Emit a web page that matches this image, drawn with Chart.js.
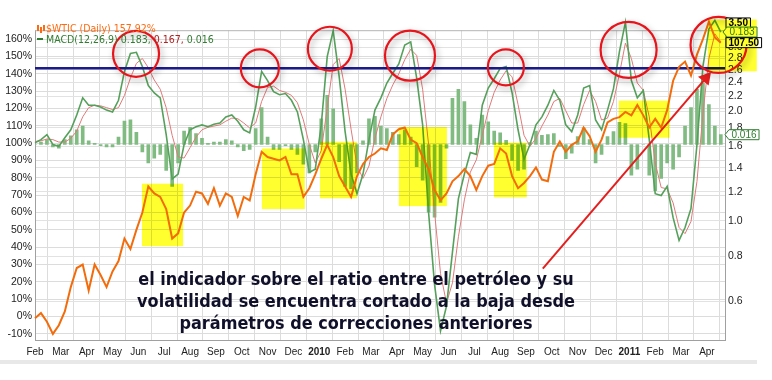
<!DOCTYPE html>
<html>
<head>
<meta charset="utf-8">
<script src="https://cdn.jsdelivr.net/npm/chart.js@4.4.1/dist/chart.umd.min.js"></script>
<style>
  html, body { margin: 0; padding: 0; background: #fff; }
  #wrap { width: 772px; height: 380px; position: relative; }
</style>
</head>
<body>
<div id="wrap"><canvas id="chart" width="772" height="380"></canvas></div>
<script>
// eje x: meses desde feb 2009 (0) hasta abr 2011 (26), datos semanales
const monthLabels = ['Feb','Mar','Apr','May','Jun','Jul','Aug','Sep','Oct','Nov','Dec','2010',
  'Feb','Mar','Apr','May','Jun','Jul','Aug','Sep','Oct','Nov','Dec','2011','Feb','Mar','Apr']
const weekStep = 12 / 52

// $WTIC ratio, % de rendimiento (eje izquierdo)
const ratioPct = [
  -1, 2, -3, -10, -5, 3, 17, 28, 30, 15,
  30, 24, 17, 26, 32, 45, 39, 50, 60, 75,
  71, 69, 62, 45, 48, 60, 64, 72, 71, 65,
  74, 64, 71, 69, 58, 69, 67, 82, 95, 92,
  91, 90, 92, 82, 82, 69, 74, 82, 91, 99,
  92, 81, 75, 69, 81, 88, 92, 94, 97, 96,
  105, 108, 109, 102, 100, 92, 85, 73, 67, 71,
  78, 81, 85, 81, 73, 81, 87, 88, 97, 94,
  81, 74, 77, 81, 86, 79, 78, 95, 101, 95,
  99, 101, 109, 104, 95, 102, 112, 114, 115, 118,
  116, 122, 116, 109, 114, 109, 119, 136, 144, 147,
  139, 151, 160, 170, 161, 157.92
]

// MACD(12,26,9)
const macdLine = [
  0.003, 0.008, 0.016, 0.000, -0.003, 0.011, 0.024, 0.048, 0.076, 0.064,
  0.064, 0.061, 0.056, 0.053, 0.072, 0.119, 0.148, 0.150, 0.127, 0.096,
  0.084, 0.076, 0.016, -0.056, -0.048, 0.000, 0.024, 0.029, 0.032, 0.029,
  0.033, 0.035, 0.045, 0.048, 0.038, 0.024, 0.019, 0.061, 0.119, 0.104,
  0.086, 0.081, 0.083, 0.072, 0.053, 0.008, -0.045, -0.040, 0.032, 0.143,
  0.185, 0.111, 0.021, -0.048, -0.080, -0.048, 0.008, 0.056, 0.076, 0.100,
  0.116, 0.131, 0.162, 0.167, 0.108, 0.032, -0.111, -0.228, -0.303, -0.263,
  -0.175, -0.088, -0.048, -0.013, -0.016, 0.064, 0.092, 0.107, 0.124, 0.127,
  0.084, 0.024, -0.024, 0.000, 0.032, 0.045, 0.064, 0.088, 0.072, 0.032,
  0.021, 0.048, 0.092, 0.096, 0.040, 0.024, 0.056, 0.091, 0.151, 0.199,
  0.104, 0.076, 0.088, 0.008, -0.080, -0.083, -0.068, -0.119, -0.156, -0.135,
  -0.104, 0.000, 0.127, 0.188, 0.202, 0.183
]
const signalLine = [
  0.005, 0.006, 0.009, 0.008, 0.004, 0.004, 0.010, 0.022, 0.045, 0.060,
  0.064, 0.063, 0.060, 0.057, 0.060, 0.080, 0.108, 0.132, 0.140, 0.125,
  0.105, 0.090, 0.060, 0.015, -0.020, -0.022, -0.005, 0.012, 0.024, 0.028,
  0.030, 0.032, 0.038, 0.043, 0.042, 0.035, 0.027, 0.035, 0.070, 0.093,
  0.095, 0.088, 0.085, 0.080, 0.068, 0.040, 0.000, -0.030, -0.010, 0.060,
  0.130, 0.140, 0.090, 0.025, -0.035, -0.055, -0.035, 0.010, 0.045, 0.075,
  0.097, 0.115, 0.138, 0.155, 0.145, 0.090, 0.000, -0.110, -0.210, -0.258,
  -0.225, -0.150, -0.090, -0.045, -0.025, 0.015, 0.055, 0.085, 0.105, 0.120,
  0.110, 0.065, 0.015, -0.003, 0.010, 0.030, 0.048, 0.070, 0.075, 0.055,
  0.035, 0.035, 0.065, 0.088, 0.070, 0.040, 0.043, 0.070, 0.115, 0.165,
  0.140, 0.100, 0.088, 0.045, -0.030, -0.070, -0.072, -0.095, -0.135, -0.145,
  -0.125, -0.060, 0.050, 0.140, 0.180, 0.167
]
const macdHist = [
  0.000, 0.004, 0.008, -0.004, -0.006, 0.008, 0.014, 0.024, 0.030, 0.006,
  0.002, -0.002, -0.004, -0.004, 0.012, 0.038, 0.040, 0.020, -0.012, -0.030,
  -0.022, -0.016, -0.042, -0.068, -0.030, 0.022, 0.028, 0.018, 0.010, 0.002,
  0.004, 0.004, 0.008, 0.006, -0.004, -0.010, -0.008, 0.026, 0.060, 0.012,
  -0.008, -0.008, -0.002, -0.008, -0.016, -0.032, -0.046, -0.012, 0.042, 0.080,
  0.058, -0.028, -0.068, -0.072, -0.046, 0.006, 0.042, 0.046, 0.030, 0.026,
  0.020, 0.016, 0.024, 0.012, -0.036, -0.058, -0.110, -0.118, -0.094, -0.006,
  0.075, 0.090, 0.070, 0.032, 0.010, 0.048, 0.037, 0.022, 0.019, 0.007,
  -0.026, -0.042, -0.040, 0.003, 0.022, 0.015, 0.016, 0.018, -0.003, -0.023,
  -0.014, 0.013, 0.027, 0.008, -0.030, -0.016, 0.013, 0.021, 0.036, 0.034,
  -0.050, -0.040, 0.000, -0.050, -0.075, -0.055, -0.030, -0.040, -0.020, 0.030,
  0.060, 0.090, 0.100, 0.065, 0.030, 0.016
]

const leftTicks = [-10, 0, 10, 20, 30, 40, 50, 60, 70, 80, 90, 100, 110, 120, 130, 140, 150, 160]
const rightTicks = [0.6, 0.8, 1.0, 1.2, 1.4, 1.6, 1.8, 2.0, 2.2, 2.4, 2.6, 2.8, 3.0]

// anotaciones: nivel azul, círculos, cajas amarillas, flecha
const resistLevel = 143.1
const circleX = [3.91, 8.70, 11.41, 14.51, 18.22, 22.97, 26.45]
const circleY = [151.5, 143.1, 154.4, 150.4, 143.7, 153.8, 156.6]
const boxFrom = [4.14, 8.78, 11.03, 14.08, 17.76, 22.59, 26.03]
const boxTo = [5.73, 10.44, 12.46, 15.94, 19.03, 24.56, 27.93]
const boxLow = [40.6, 62.0, 68.2, 63.7, 68.7, 103.1, 141.4]
const boxHigh = [76.6, 96.9, 100.8, 109.3, 100.3, 124.5, 171.3]
const arrowX = [19.65, 25.96]
const arrowY = [27.6, 137.5]

// últimos valores
const lastPrice = '107.50'
const lastPct = 157.92
const lastRatio = 3.5
const lastMacd = [0.183, 0.167, 0.016]

const noteLines = [
  'el indicador sobre el ratio entre el petróleo y su',
  'volatilidad se encuentra cortado a la baja desde',
  'parámetros de correcciones anteriores'
]

const toXY = arr => arr.map((v, i) => ({ x: i * weekStep, y: v }))
const tickFont = '"Liberation Sans", Arial, sans-serif'
const circleRadius = [23, 19, 22, 25, 18, 28, 28]

const drawTag = (ctx, x, y, text, opt) => {
  ctx.font = (opt.bold ? 'bold ' : '') + '10px ' + tickFont
  const w = ctx.measureText(text).width + 5
  const h = 10
  ctx.beginPath()
  if (opt.arrow) {
    ctx.moveTo(x - 4, y)
    ctx.lineTo(x, y - h / 2)
  } else {
    ctx.moveTo(x, y - h / 2)
  }
  ctx.lineTo(x + w, y - h / 2)
  ctx.lineTo(x + w, y + h / 2)
  ctx.lineTo(x, y + h / 2)
  ctx.closePath()
  ctx.fillStyle = '#ffffff'
  ctx.fill()
  ctx.lineWidth = 1
  ctx.strokeStyle = opt.color
  ctx.stroke()
  ctx.fillStyle = opt.color
  ctx.textBaseline = 'middle'
  ctx.textAlign = 'left'
  ctx.fillText(text, x + 2.5, y + 0.5)
}

const decor = {
  id: 'decor',
  beforeDraw(chart) {
    const ctx = chart.ctx
    ctx.save()
    ctx.fillStyle = '#e8e8e8'
    ctx.fillRect(0, 360, 757, 4)
    ctx.restore()
  },
  beforeDatasetsDraw(chart) {
    const { ctx, chartArea: a } = chart
    ctx.save()
    ctx.strokeStyle = '#b4b4b4'
    ctx.lineWidth = 1
    ctx.beginPath()
    ctx.moveTo(a.left, a.top + 0.5)
    ctx.lineTo(a.right, a.top + 0.5)
    ctx.stroke()
    ctx.restore()
  },
  beforeDatasetDraw(chart, args) {
    if (chart.data.datasets[args.index].label !== 'circles') return
    const ctx = chart.ctx
    ctx.save()
    ctx.shadowColor = 'rgba(0,0,0,0.35)'
    ctx.shadowBlur = 6
    ctx.shadowOffsetX = 2
    ctx.shadowOffsetY = 3
  },
  afterDatasetDraw(chart, args) {
    if (chart.data.datasets[args.index].label !== 'circles') return
    chart.ctx.restore()
  },
  afterDatasetsDraw(chart) {
    const { ctx, scales } = chart
    ctx.save()
    // etiquetas de último valor
    drawTag(ctx, 726, scales.yLog.getPixelForValue(lastRatio), lastRatio.toFixed(2), { color: '#000', bold: true })
    drawTag(ctx, 727, scales.yMacd.getPixelForValue(lastMacd[0]), lastMacd[0].toFixed(3), { color: '#2f7d2f', arrow: true })
    drawTag(ctx, 726, scales.y.getPixelForValue(lastPct), lastPrice, { color: '#000', bold: true })
    drawTag(ctx, 729, scales.yMacd.getPixelForValue(lastMacd[2]), lastMacd[2].toFixed(3), { color: '#2f7d2f', arrow: true })
    // cajas amarillas (resaltado)
    ctx.globalCompositeOperation = 'multiply'
    ctx.fillStyle = '#ffff30'
    for (let i = 0; i < boxFrom.length; i++) {
      const x0 = scales.x.getPixelForValue(boxFrom[i])
      const x1 = scales.x.getPixelForValue(boxTo[i])
      const y0 = scales.y.getPixelForValue(boxHigh[i])
      const y1 = scales.y.getPixelForValue(boxLow[i])
      ctx.fillRect(x0, y0, x1 - x0, y1 - y0)
    }
    ctx.restore()
  },
  afterDraw(chart) {
    const ctx = chart.ctx
    ctx.save()
    // leyenda
    const lf = '10.5px "DejaVu Sans Condensed", "Liberation Sans", sans-serif'
    ctx.font = lf
    ctx.textBaseline = 'alphabetic'
    ctx.textAlign = 'left'
    ctx.fillStyle = '#ff6a10'
    for (let k = 0; k < 3; k++) ctx.fillRect(37 + k * 3, 25 + (k % 2) * 2, 2, 6)
    ctx.fillText('$WTIC (Daily) ' + lastPct.toFixed(2) + '%', 46, 32)
    ctx.fillStyle = '#2f7d2f'
    ctx.fillRect(37, 38, 6, 2)
    let x = 46
    const parts = [
      ['MACD(12,26,9) ' + lastMacd[0].toFixed(3) + ', ', '#2f7d2f'],
      [lastMacd[1].toFixed(3) + ', ', '#b32020'],
      [lastMacd[2].toFixed(3), '#2f7d2f']
    ]
    for (const [t, c] of parts) {
      ctx.fillStyle = c
      ctx.fillText(t, x, 43)
      x += ctx.measureText(t).width
    }
    // texto de comentario
    let size = 20
    const nf = s => 'bold ' + s + 'px "DejaVu Sans Condensed", "DejaVu Sans", sans-serif'
    ctx.font = nf(size)
    size = size * 436 / ctx.measureText(noteLines[0]).width
    ctx.font = nf(size)
    ctx.fillStyle = '#10102a'
    ctx.textAlign = 'center'
    noteLines.forEach((t, i) => ctx.fillText(t, 356, 285 + i * 22))
    ctx.restore()
  }
}

new Chart(document.getElementById('chart'), {
  type: 'bar',
  data: {
    datasets: [
      {
        label: 'circles',
        type: 'line',
        data: circleX.map((v, i) => ({ x: v, y: circleY[i] })),
        showLine: false,
        pointRadius: circleRadius,
        pointBackgroundColor: 'rgba(0,0,0,0)',
        pointBorderColor: '#e8141c',
        pointBorderWidth: 2.2,
        yAxisID: 'y',
        clip: false,
        order: 0
      },
      {
        label: 'arrow',
        type: 'line',
        data: arrowX.map((v, i) => ({ x: v, y: arrowY[i] })),
        borderColor: '#e41e1e',
        borderWidth: 2,
        pointRadius: [0, 6],
        pointStyle: 'triangle',
        pointRotation: 40,
        pointBackgroundColor: '#e41e1e',
        pointBorderColor: '#e41e1e',
        yAxisID: 'y',
        clip: false,
        order: 1
      },
      {
        label: '$WTIC',
        type: 'line',
        data: toXY(ratioPct),
        borderColor: '#f36c0c',
        borderWidth: 2,
        pointRadius: 0,
        tension: 0,
        yAxisID: 'y',
        clip: false,
        order: 2
      },
      {
        label: 'level',
        type: 'line',
        data: [{ x: 0, y: resistLevel }, { x: 26.7, y: resistLevel }],
        borderColor: '#1b1b8c',
        borderWidth: 2.5,
        pointRadius: 0,
        yAxisID: 'y',
        order: 3
      },
      {
        label: 'MACD',
        type: 'line',
        data: toXY(macdLine),
        borderColor: '#55a05a',
        borderWidth: 1.6,
        pointRadius: 0,
        tension: 0,
        yAxisID: 'yMacd',
        clip: false,
        order: 4
      },
      {
        label: 'Signal',
        type: 'line',
        data: toXY(signalLine),
        borderColor: '#e07a7a',
        borderWidth: 1,
        pointRadius: 0,
        tension: 0,
        yAxisID: 'yMacd',
        clip: false,
        order: 5
      },
      {
        label: 'Hist',
        type: 'bar',
        data: toXY(macdHist),
        backgroundColor: '#80bb82',
        barThickness: 3,
        yAxisID: 'yMacd',
        order: 6
      }
    ]
  },
  options: {
    responsive: false,
    animation: false,
    events: [],
    layout: { padding: { top: 23, left: 0, right: 0, bottom: 0 } },
    plugins: { legend: { display: false }, tooltip: { enabled: false } },
    scales: {
      x: {
        type: 'linear',
        min: 0,
        max: 26.7,
        offset: false,
        grid: { color: '#dcdcdc', drawTicks: false },
        border: { color: '#a0a0a0' },
        afterBuildTicks: s => { s.ticks = monthLabels.map((_, i) => ({ value: i })) },
        afterFit: s => { s.height = 40 },
        ticks: {
          autoSkip: false,
          maxRotation: 0,
          padding: 6,
          color: '#222',
          font: c => ({ family: tickFont, size: 10, weight: /^20/.test(monthLabels[c.index] || '') ? 'bold' : 'normal' }),
          callback: v => monthLabels[v] || ''
        }
      },
      y: {
        type: 'linear',
        position: 'left',
        min: -13.5,
        max: 165.1,
        grid: { color: '#dcdcdc', drawTicks: false },
        border: { color: '#a0a0a0' },
        afterBuildTicks: s => { s.ticks = leftTicks.map(v => ({ value: v })) },
        afterFit: s => { s.width = 35 },
        ticks: { padding: 3, color: '#222', font: { family: tickFont, size: 10.5 }, callback: v => v + '%' }
      },
      yLog: {
        type: 'logarithmic',
        position: 'right',
        min: 0.47,
        max: 3.343,
        grid: { color: '#e2e2e2', drawTicks: false },
        border: { color: '#a0a0a0' },
        afterBuildTicks: s => { s.ticks = rightTicks.map(v => ({ value: v })) },
        afterFit: s => { s.width = 47 },
        ticks: { padding: 3, color: '#222', font: { family: tickFont, size: 10.5 }, callback: v => Number(v).toFixed(1) }
      },
      yMacd: {
        type: 'linear',
        display: false,
        min: -0.318,
        max: 0.186
      }
    }
  },
  plugins: [decor]
})
</script>
</body>
</html>
